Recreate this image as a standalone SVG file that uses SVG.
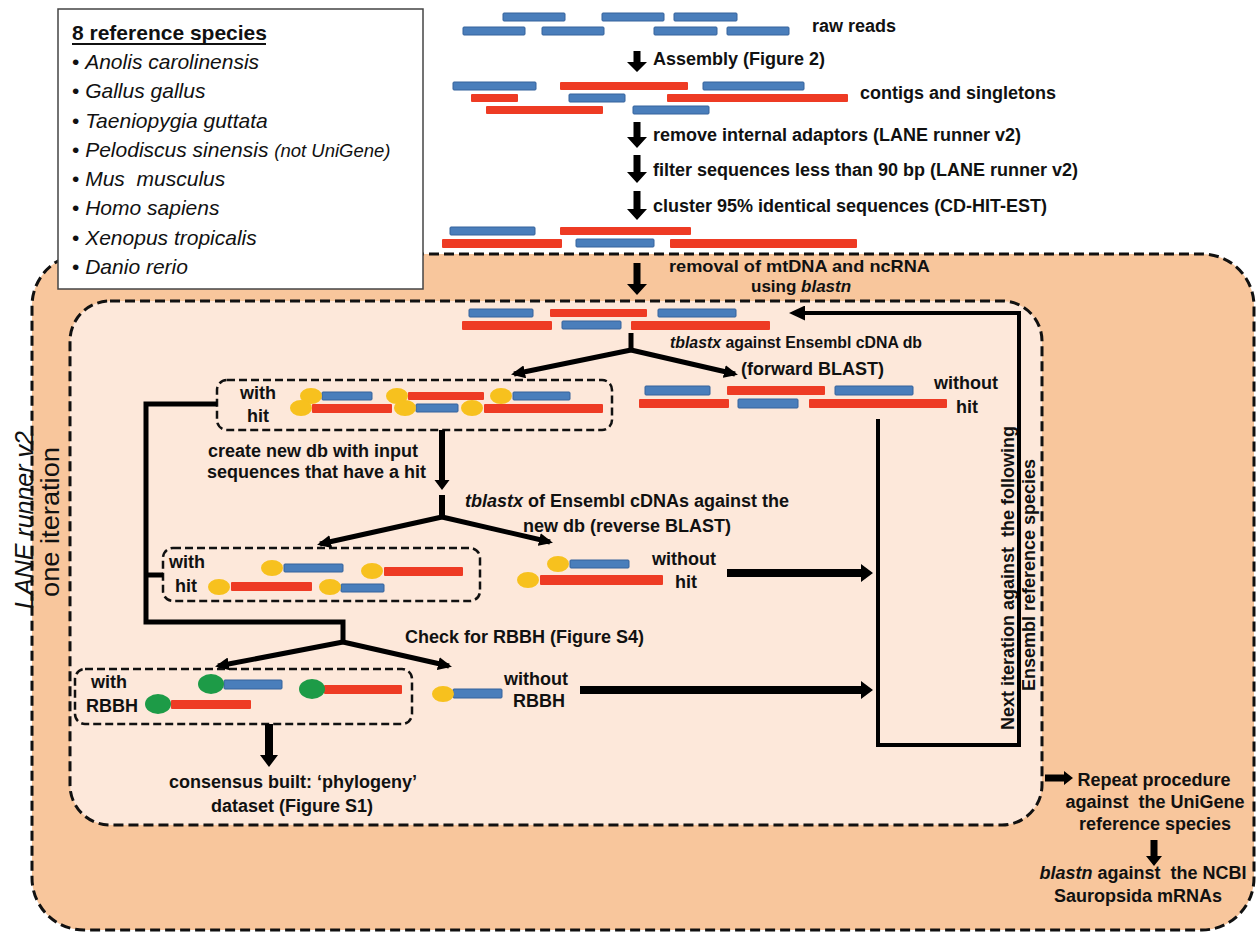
<svg xmlns="http://www.w3.org/2000/svg" width="1258" height="933" viewBox="0 0 1258 933" xml:space="preserve">
<defs>
<style>
.t{font-family:"Liberation Sans",Arial,sans-serif;font-weight:bold;font-size:18px;fill:#111;white-space:pre}
.sp{font-family:"Liberation Sans",Arial,sans-serif;font-style:italic;font-size:21px;fill:#111;white-space:pre}
.bul{font-style:normal}
.i{font-style:italic}
.b{fill:#4A7EBB;stroke:#35629C;stroke-width:1}
.r{fill:#EE3B24}
.y{fill:#F7C11E}
.g{fill:#1D9B47}
.ln{fill:none;stroke:#000;stroke-width:5}
.dash{fill:none;stroke:#111;stroke-width:3;stroke-dasharray:10 5}
.sdash{fill:none;stroke:#111;stroke-width:2.5;stroke-dasharray:8 4}
.ar{fill:#000}
</style>
<marker id="ah" markerUnits="userSpaceOnUse" markerWidth="14" markerHeight="13" refX="11" refY="6.5" orient="auto">
<path d="M0,0 L14,6.5 L0,13 z" fill="#000"/>
</marker>
<marker id="ah2" markerUnits="userSpaceOnUse" markerWidth="16" markerHeight="15" refX="12" refY="7.5" orient="auto">
<path d="M0,0 L16,7.5 L0,15 z" fill="#000"/>
</marker>
</defs>
<rect width="1258" height="933" fill="#fff"/>

<g id="outer-box">
<rect x="32" y="254" width="1222" height="676" rx="52" fill="#F8C69C"/>
<rect x="32" y="254" width="1222" height="676" rx="52" class="dash"/>
</g>

<g id="inner-box">
<rect x="70" y="301" width="972" height="524" rx="40" fill="#FDE8DA"/>
<rect x="70" y="301" width="972" height="524" rx="40" class="dash"/>
</g>

<g id="species-box">
<rect x="58" y="9" width="365" height="280" fill="#fff" stroke="#444" stroke-width="1.5"/>
<text class="sp" x="72" y="40" style="font-style:normal;font-weight:bold">8 reference species</text>
<line x1="72" y1="44" x2="266" y2="44" stroke="#111" stroke-width="1.8"/>
<text class="sp" x="72" y="69"><tspan class="bul">• </tspan>Anolis carolinensis</text>
<text class="sp" x="72" y="98"><tspan class="bul">• </tspan>Gallus gallus</text>
<text class="sp" x="72" y="128"><tspan class="bul">• </tspan>Taeniopygia guttata</text>
<text class="sp" x="72" y="157"><tspan class="bul">• </tspan>Pelodiscus sinensis <tspan style="font-size:18.5px">(not UniGene)</tspan></text>
<text class="sp" x="72" y="186"><tspan class="bul">• </tspan>Mus  musculus</text>
<text class="sp" x="72" y="215"><tspan class="bul">• </tspan>Homo sapiens</text>
<text class="sp" x="72" y="245"><tspan class="bul">• </tspan>Xenopus tropicalis</text>
<text class="sp" x="72" y="274"><tspan class="bul">• </tspan>Danio rerio</text>
</g>

<g id="raw-reads">
<rect class="b" x="503" y="13" width="62" height="8" rx="1"/>
<rect class="b" x="602" y="13" width="62" height="8" rx="1"/>
<rect class="b" x="674" y="13" width="63" height="8" rx="1"/>
<rect class="b" x="463" y="27" width="62" height="8" rx="1"/>
<rect class="b" x="542" y="27" width="62" height="8" rx="1"/>
<rect class="b" x="654" y="27" width="63" height="8" rx="1"/>
<rect class="b" x="727" y="27" width="62" height="8" rx="1"/>
<text class="t" x="812" y="32">raw reads</text>
</g>

<g id="contigs">
<rect class="b" x="453" y="82" width="83" height="8" rx="1"/>
<rect class="r" x="560" y="82" width="128" height="8" rx="1"/>
<rect class="b" x="703" y="82" width="101" height="8" rx="1"/>
<rect class="r" x="471" y="94" width="47" height="8" rx="1"/>
<rect class="b" x="569" y="94" width="56" height="8" rx="1"/>
<rect class="r" x="667" y="94" width="181" height="8" rx="1"/>
<rect class="r" x="486" y="106" width="117" height="8" rx="1"/>
<rect class="b" x="633" y="106" width="76" height="8" rx="1"/>
<text class="t" x="860" y="99">contigs and singletons</text>
</g>

<g id="filtered-set">
<rect class="b" x="450" y="227" width="85" height="8" rx="1"/>
<rect class="r" x="560" y="227" width="131" height="8" rx="1"/>
<rect class="r" x="442" y="239" width="120" height="9" rx="1"/>
<rect class="b" x="576" y="239" width="78" height="8" rx="1"/>
<rect class="r" x="670" y="239" width="187" height="9" rx="1"/>
</g>

<g id="pipeline-labels">
<text class="t" x="653" y="65">Assembly (Figure 2)</text>
<text class="t" x="653" y="141">remove internal adaptors (LANE runner v2)</text>
<text class="t" x="653" y="176">filter sequences less than 90 bp (LANE runner v2)</text>
<text class="t" x="653" y="212">cluster 95% identical sequences (CD-HIT-EST)</text>
<text class="t" x="669" y="272" style="font-size:17px" textLength="261" lengthAdjust="spacingAndGlyphs">removal of mtDNA and ncRNA</text>
<text class="t" x="751" y="292" style="font-size:17px">using <tspan class="i">blastn</tspan></text>
</g>

<g id="inner-set">
<rect class="b" x="469" y="309" width="64" height="8" rx="1"/>
<rect class="r" x="550" y="309" width="97" height="8" rx="1"/>
<rect class="b" x="658" y="309" width="78" height="8" rx="1"/>
<rect class="r" x="462" y="321" width="90" height="9" rx="1"/>
<rect class="b" x="562" y="321" width="59" height="8" rx="1"/>
<rect class="r" x="631" y="321" width="139" height="9" rx="1"/>
<text class="t" x="670" y="348" style="font-size:17px" textLength="252" lengthAdjust="spacingAndGlyphs"><tspan class="i">tblastx</tspan> against Ensembl cDNA db</text>
<text class="t" x="741" y="375">(forward BLAST)</text>
</g>

<g id="with-hit-1">
<rect x="217" y="380" width="395" height="50" rx="10" class="sdash"/>
<text class="t" x="240" y="399">with</text>
<text class="t" x="247" y="422">hit</text>
<rect class="b" x="322" y="392" width="50" height="8" rx="1"/>
<rect class="r" x="408" y="392" width="76" height="8" rx="1"/>
<rect class="b" x="513" y="392" width="57" height="8" rx="1"/>
<rect class="r" x="312" y="404" width="80" height="9" rx="1"/>
<rect class="b" x="416" y="404" width="42" height="8" rx="1"/>
<rect class="r" x="484" y="404" width="119" height="9" rx="1"/>
<ellipse class="y" cx="311" cy="396" rx="11" ry="8"/>
<ellipse class="y" cx="397" cy="396" rx="11" ry="8"/>
<ellipse class="y" cx="501" cy="396" rx="11" ry="8"/>
<ellipse class="y" cx="301" cy="408" rx="11" ry="8"/>
<ellipse class="y" cx="405" cy="408" rx="11" ry="8"/>
<ellipse class="y" cx="472" cy="408" rx="11" ry="8"/>
</g>

<g id="without-hit-1">
<rect class="b" x="645" y="386" width="65" height="9" rx="1"/>
<rect class="r" x="727" y="386" width="98" height="9" rx="1"/>
<rect class="b" x="835" y="386" width="78" height="9" rx="1"/>
<rect class="r" x="639" y="399" width="90" height="9" rx="1"/>
<rect class="b" x="738" y="399" width="60" height="9" rx="1"/>
<rect class="r" x="809" y="399" width="138" height="9" rx="1"/>
<text class="t" x="934" y="389">without</text>
<text class="t" x="956" y="413">hit</text>
</g>

<g id="reverse-labels">
<text class="t" x="208" y="457">create new db with input</text>
<text class="t" x="207" y="478">sequences that have a hit</text>
<text class="t" x="465" y="507"><tspan class="i">tblastx</tspan> of Ensembl cDNAs against the</text>
<text class="t" x="523" y="532">new db (reverse BLAST)</text>
</g>

<g id="with-hit-2">
<rect x="163" y="548" width="317" height="53" rx="10" class="sdash"/>
<text class="t" x="169" y="568">with</text>
<text class="t" x="175" y="592">hit</text>
<rect class="b" x="284" y="564" width="59" height="8" rx="1"/>
<rect class="r" x="384" y="567" width="79" height="9" rx="1"/>
<rect class="r" x="231" y="582" width="81" height="9" rx="1"/>
<rect class="b" x="341" y="584" width="43" height="8" rx="1"/>
<ellipse class="y" cx="272" cy="568" rx="11" ry="8"/>
<ellipse class="y" cx="372" cy="571" rx="11" ry="8"/>
<ellipse class="y" cx="219" cy="587" rx="11" ry="8"/>
<ellipse class="y" cx="330" cy="587" rx="11" ry="8"/>
</g>

<g id="without-hit-2">
<rect class="b" x="570" y="560" width="59" height="8" rx="1"/>
<rect class="r" x="540" y="575" width="123" height="10" rx="1"/>
<ellipse class="y" cx="558" cy="564" rx="11" ry="8"/>
<ellipse class="y" cx="528" cy="580" rx="11" ry="8"/>
<text class="t" x="652" y="565">without</text>
<text class="t" x="675" y="588">hit</text>
</g>

<g id="rbbh-label">
<text class="t" x="405" y="643">Check for RBBH (Figure S4)</text>
</g>

<g id="with-rbbh">
<rect x="75" y="669" width="337" height="55" rx="10" class="sdash"/>
<text class="t" x="91" y="688">with</text>
<text class="t" x="86" y="712">RBBH</text>
<rect class="b" x="224" y="680" width="58" height="9" rx="1"/>
<rect class="r" x="324" y="685" width="78" height="9" rx="1"/>
<rect class="r" x="171" y="700" width="80" height="9" rx="1"/>
<ellipse class="g" cx="211" cy="684" rx="13" ry="10"/>
<ellipse class="g" cx="312" cy="689" rx="13" ry="10"/>
<ellipse class="g" cx="158" cy="704" rx="13" ry="10"/>
</g>

<g id="without-rbbh">
<rect class="b" x="453" y="689" width="49" height="9" rx="1"/>
<ellipse class="y" cx="443" cy="694" rx="11" ry="8"/>
<text class="t" x="504" y="685">without</text>
<text class="t" x="513" y="707">RBBH</text>
</g>

<g id="consensus">
<text class="t" x="169" y="788">consensus built: ‘phylogeny’</text>
<text class="t" x="211" y="812">dataset (Figure S1)</text>
</g>

<g id="repeat">
<text class="t" x="1154" y="786" text-anchor="middle">Repeat procedure</text>
<text class="t" x="1155" y="808" text-anchor="middle">against  the UniGene</text>
<text class="t" x="1155" y="830" text-anchor="middle">reference species</text>
<text class="t" x="1143" y="879" text-anchor="middle"><tspan class="i">blastn</tspan> against  the NCBI</text>
<text class="t" x="1138" y="902" text-anchor="middle">Sauropsida mRNAs</text>
</g>

<g id="side-labels">
<text class="t" transform="translate(33,520) rotate(-90)" text-anchor="middle" style="font-weight:normal;font-style:italic;font-size:25px">LANE runner v2</text>
<text class="t" transform="translate(59,522) rotate(-90)" text-anchor="middle" style="font-weight:normal;font-size:26px" textLength="150" lengthAdjust="spacingAndGlyphs">one iteration</text>
<text class="t" transform="translate(1014,578) rotate(-90)" text-anchor="middle">Next iteration against  the following</text>
<text class="t" transform="translate(1035,575) rotate(-90)" text-anchor="middle">Ensembl reference species</text>
</g>

<g id="connectors">
<polygon class="ar" points="633.5,51 640.5,51 640.5,62 647,62 637,72 627,62 633.5,62"/>
<polygon class="ar" points="633.5,122 640.5,122 640.5,137 647,137 637,148 627,137 633.5,137"/>
<polygon class="ar" points="633.5,155 640.5,155 640.5,172 647,172 637,183 627,172 633.5,172"/>
<polygon class="ar" points="633.5,191 640.5,191 640.5,209 647,209 637,220 627,209 633.5,209"/>
<polygon class="ar" points="633.5,263 640.5,263 640.5,284 647,284 637,295 627,284 633.5,284"/>
<line class="ln" x1="631" y1="333" x2="631" y2="352"/>
<line class="ln" x1="631" y1="350" x2="514" y2="374" marker-end="url(#ah)"/>
<line class="ln" x1="631" y1="350" x2="735" y2="374" marker-end="url(#ah)"/>
<polygon class="ar" points="439,430 445,430 445,480 449.5,480 442,490 434.5,480 439,480"/>
<line class="ln" x1="442" y1="495" x2="442" y2="519" style="stroke-width:6"/>
<line class="ln" x1="442" y1="517" x2="320" y2="544" marker-end="url(#ah)"/>
<line class="ln" x1="442" y1="517" x2="550" y2="542" marker-end="url(#ah)"/>
<path class="ln" d="M217,404 H146 V622 H343 V644"/>
<path class="ln" d="M146,575 H163"/>
<line class="ln" x1="343" y1="642" x2="218" y2="666" marker-end="url(#ah)"/>
<line class="ln" x1="343" y1="642" x2="449" y2="666" marker-end="url(#ah)"/>
<polygon class="ar" points="727,569 861,569 861,564 873,573 861,582 861,577 727,577"/>
<polygon class="ar" points="580,686 861,686 861,681 873,690 861,699 861,694 580,694"/>
<path class="ln" d="M878,419 V745 H1019 V313 H793" style="stroke-width:4" marker-end="url(#ah2)"/>
<polygon class="ar" points="265,724 273,724 273,755 278,755 269,767 260,755 265,755"/>
<polygon class="ar" points="1045,774.5 1064,774.5 1064,771 1073,778 1064,785 1064,781.5 1045,781.5"/>
<polygon class="ar" points="1150.5,840 1157.5,840 1157.5,856 1162,856 1154,866 1146,856 1150.5,856"/>
</g>
</svg>
